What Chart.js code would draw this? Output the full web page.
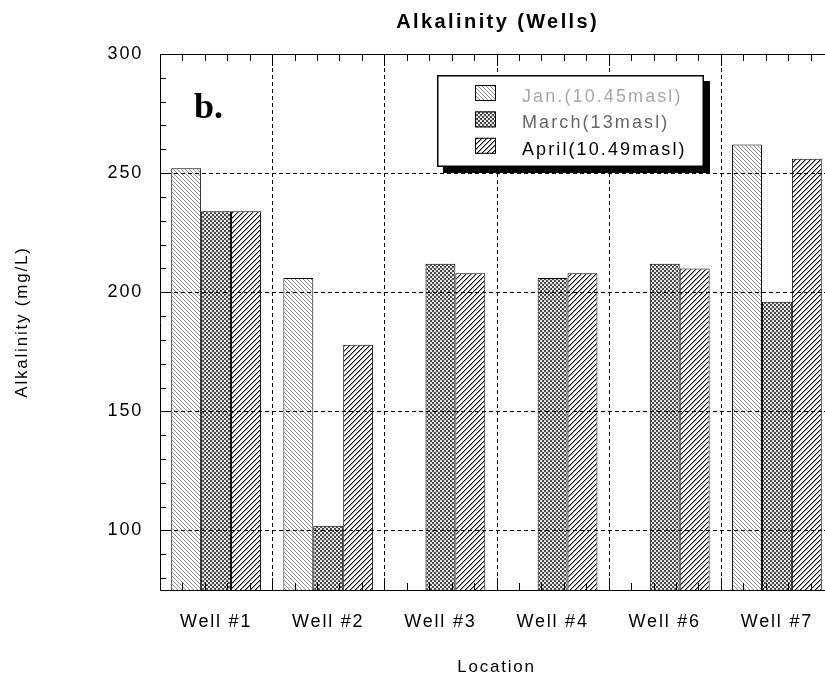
<!DOCTYPE html>
<html>
<head>
<meta charset="utf-8">
<script src="https://cdn.jsdelivr.net/npm/chart.js@4.4.1/dist/chart.umd.min.js"></script>
<style>
  html, body { margin: 0; padding: 0; overflow: hidden; background: #fff; }
  #wrap { position: relative; width: 860px; height: 683px; }
</style>
</head>
<body>
<div id="wrap"><canvas id="c" width="860" height="683"></canvas></div>
<script>
// Sampled alkalinity per well (mg/L); null = no sample that month
const wells = ['Well #1', 'Well #2', 'Well #3', 'Well #4', 'Well #6', 'Well #7'];
const janValues = [252, 206, null, null, null, 262];
const marchValues = [234, 102, 212, 206, 212, 196];
const aprilValues = [234, 178, 208, 208, 210, 256];
const seriesLabels = ['Jan.(10.45masl)', 'March(13masl)', 'April(10.49masl)'];
const legendTextColors = ['#a8a8a8', '#666666', '#000000'];
const yTicks = [100, 150, 200, 250, 300];
const yMin = 75, yMax = 300, yMinorStep = 10;
const chartTitle = 'Alkalinity (Wells)';
const panelLabel = 'b.';
const xTitle = 'Location';
const yTitle = 'Alkalinity (mg/L)';

const FONT = 'Liberation Sans, Arial, sans-serif';
const canvas = document.getElementById('c');
const ctx = canvas.getContext('2d');

// Hatch fills built pixel by pixel so they stay crisp
function makePattern(size, paint) {
  const c = document.createElement('canvas');
  c.width = size; c.height = size;
  const g = c.getContext('2d');
  g.fillStyle = '#fff';
  g.fillRect(0, 0, size, size);
  paint(g, size);
  return ctx.createPattern(c, 'repeat');
}
const janFill = makePattern(4, (g, s) => {
  g.fillStyle = '#8f8f8f';
  for (let i = 0; i < s; i++) g.fillRect(i, i, 1, 1);
});
const marchFill = makePattern(4, (g, s) => {
  for (let y = 0; y < s; y++) for (let x = 0; x < s; x++) {
    g.fillStyle = (((x >> 1) + (y >> 1)) % 2) ? '#4a4a4a' : '#e6e6e6';
    g.fillRect(x, y, 1, 1);
  }
});
const aprilFill = makePattern(5, (g, s) => {
  for (let i = 0; i < s; i++) {
    g.fillStyle = '#000';
    g.fillRect(i, s - 1 - i, 1, 1);
    g.fillStyle = '#9a9a9a';
    g.fillRect((i + 1) % s, s - 1 - i, 1, 1);
  }
});

function line(c, x1, y1, x2, y2) {
  c.beginPath(); c.moveTo(x1, y1); c.lineTo(x2, y2); c.stroke();
}

// Dashed grid, frame and inward tick marks, drawn over the bars
const framePlugin = {
  id: 'frame',
  beforeDraw(chart) {
    chart.ctx.letterSpacing = '1.8px';
  },
  afterDatasetsDraw(chart) {
    const c = chart.ctx, a = chart.chartArea;
    const xs = chart.scales.x, ys = chart.scales.y;
    c.save();
    c.letterSpacing = '0px';
    c.strokeStyle = '#000';
    c.lineWidth = 1;
    const catW = xs.getPixelForValue(1) - xs.getPixelForValue(0);
    const px = v => Math.round(v) + 0.5;

    c.setLineDash([4, 3]);
    yTicks.forEach(v => {
      if (v >= yMax) return;
      const y = px(ys.getPixelForValue(v));
      line(c, a.left, y, a.right, y);
    });
    for (let i = 1; i < wells.length; i++) {
      const x = px(xs.getPixelForValue(i) - catW / 2);
      line(c, x, a.top, x, a.bottom);
    }
    c.setLineDash([]);

    // frame
    const L = px(a.left), B = px(a.bottom), T = px(a.top), R = px(a.right);
    line(c, L, T, R, T);
    line(c, L, T, L, B);
    line(c, L, B, R, B);
    line(c, R, T, R, B);

    // y minor / major ticks
    for (let v = yMin + 5; v <= yMax; v += yMinorStep) {
      const y = px(ys.getPixelForValue(v));
      const len = (v % 50 === 0) ? 9 : 6;
      line(c, a.left, y, a.left + len, y);
      line(c, a.right, y, a.right - len, y);
    }
    // x ticks: five subdivisions per category
    const sub = catW / 5;
    for (let k = 0; k <= wells.length * 5; k++) {
      const x = px(xs.getPixelForValue(0) - catW / 2 + k * sub);
      const len = (k % 5 === 0) ? 12 : 7;
      line(c, x, a.bottom, x, a.bottom - len);
      line(c, x, a.top, x, a.top + len);
    }
    c.restore();
  },
  afterDraw(chart) {
    const c = chart.ctx, a = chart.chartArea;
    c.save();

    // title
    c.fillStyle = '#000';
    c.font = 'bold 20px ' + FONT;
    c.letterSpacing = '2.4px';
    c.textAlign = 'center';
    c.textBaseline = 'middle';
    c.fillText(chartTitle, (a.left + a.right) / 2 + 1.2, 22);

    // panel label
    c.font = 'bold 36px Liberation Serif, Times New Roman, serif';
    c.letterSpacing = '0px';
    c.textAlign = 'left';
    c.textBaseline = 'alphabetic';
    c.fillText(panelLabel, 194, 118);

    // legend box with heavy drop shadow
    const bx = 437, by = 75, bw = 267, bh = 92;
    c.fillStyle = '#000';
    c.fillRect(bx + 6, by + 6, bw, bh);
    c.fillStyle = '#fff';
    c.fillRect(bx, by, bw, bh);
    c.strokeStyle = '#000';
    c.lineWidth = 1.5;
    c.strokeRect(bx + 0.75, by + 0.75, bw - 1.5, bh - 1.5);

    c.font = '18px ' + FONT;
    c.letterSpacing = '2.1px';
    c.textBaseline = 'middle';
    chart.data.datasets.forEach((ds, i) => {
      const cy = 93 + i * 26.4;
      c.fillStyle = ds.backgroundColor;
      c.fillRect(475, cy - 8, 21, 16);
      c.lineWidth = 1;
      c.strokeStyle = '#000';
      c.strokeRect(475.5, cy - 7.5, 20, 15);
      c.fillStyle = legendTextColors[i];
      c.fillText(ds.label, 522, cy + 4);
    });
    c.restore();
  }
};

const barStyle = { borderColor: '#000', borderWidth: 1, borderSkipped: 'start' };

new Chart(ctx, {
  type: 'bar',
  data: {
    labels: wells,
    datasets: [
      Object.assign({ label: seriesLabels[0], data: janValues, backgroundColor: janFill }, barStyle),
      Object.assign({ label: seriesLabels[1], data: marchValues, backgroundColor: marchFill }, barStyle),
      Object.assign({ label: seriesLabels[2], data: aprilValues, backgroundColor: aprilFill }, barStyle)
    ]
  },
  options: {
    responsive: false,
    animation: false,
    events: [],
    layout: { padding: { top: 54, right: 27, bottom: 0, left: 0 } },
    datasets: { bar: { categoryPercentage: 0.8, barPercentage: 1.0 } },
    plugins: { legend: { display: false }, title: { display: false }, tooltip: { enabled: false } },
    scales: {
      x: {
        offset: true,
        grid: { display: false, drawTicks: false },
        border: { display: false },
        ticks: { padding: 21, color: '#000', font: { family: FONT, size: 18 }, maxRotation: 0, autoSkip: false },
        title: { display: true, text: xTitle, color: '#000', font: { family: FONT, size: 17 }, padding: { top: 0, bottom: 5 } },
        afterFit(s) { s.height = 93; }
      },
      y: {
        min: yMin,
        max: yMax,
        grid: { display: false, drawTicks: false },
        border: { display: false },
        afterBuildTicks(s) { s.ticks = yTicks.map(v => ({ value: v })); },
        ticks: { padding: 17, color: '#000', font: { family: FONT, size: 18 } },
        title: { display: true, text: yTitle, color: '#000', font: { family: FONT, size: 17 }, padding: { top: 12, bottom: 0 } },
        afterFit(s) { s.width = 160; }
      }
    }
  },
  plugins: [framePlugin]
});
</script>
</body>
</html>
